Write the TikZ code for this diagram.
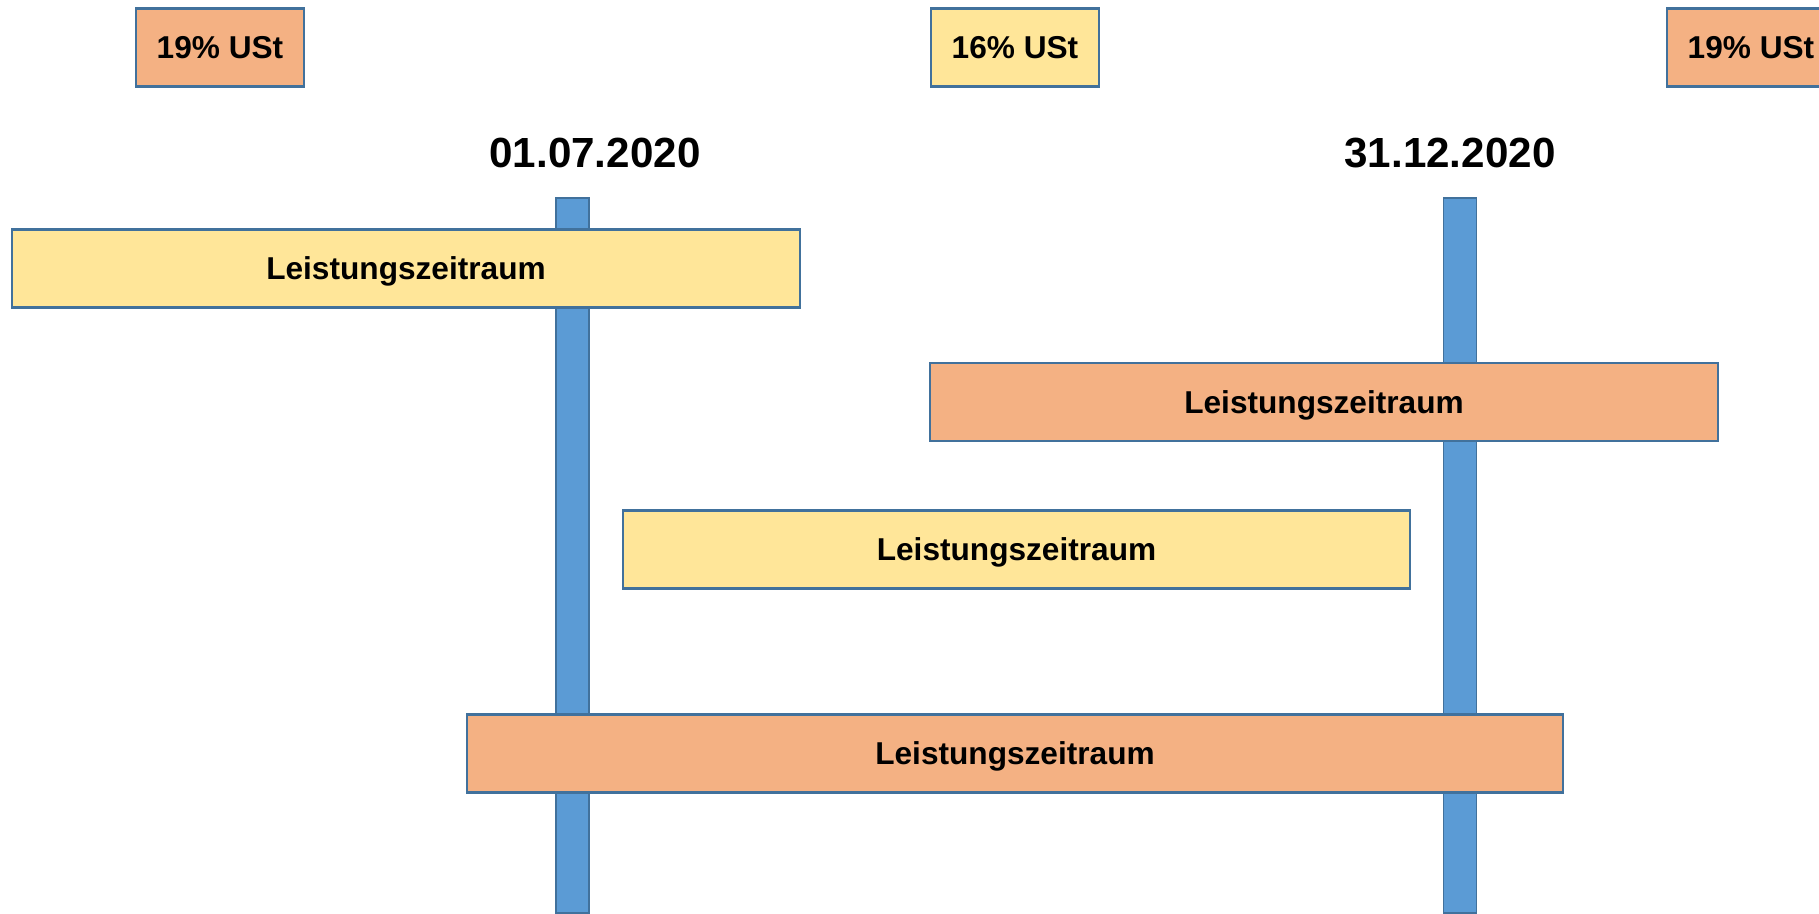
\documentclass[tikz,border=0pt]{standalone}
\usepackage{fontspec}
\setmainfont{Liberation Sans}
\usepackage{xcolor}
\usepackage{tikz}
\usetikzlibrary{positioning}
\definecolor{lzorange}{HTML}{F4B183}
\definecolor{lzyellow}{HTML}{FFE699}
\definecolor{barblue}{HTML}{5B9BD5}
\definecolor{edgeblue}{HTML}{41719C}

\begin{document}
\begin{tikzpicture}[x=0.02cm,y=-0.02cm,
	box/.style={draw=edgeblue,line width=1.2pt,minimum height=1.56cm,inner sep=0pt,text depth=0pt,font=\fontsize{18}{22}\selectfont\bfseries},
	rate/.style={box,minimum width=3.36cm},
	period/.style={box,minimum width=15.76cm},
	bar/.style={fill=barblue,draw=edgeblue,line width=1pt,minimum width=0.66cm,minimum height=14.3cm,anchor=north,inner sep=0pt},
	datum/.style={inner sep=0pt,text depth=0pt,font=\fontsize{24}{29}\selectfont\bfseries}]
	\useasboundingbox (0,0) rectangle (1819,913);
	\node[rate,fill=lzorange] (rate1) at (220,47.5) {19\% USt};
	\node[rate,fill=lzyellow] (rate2) at (1015,47.5) {16\% USt};
	\node[rate,fill=lzorange] (rate3) at (1751,47.5) {19\% USt};
	\node[datum] (date1) at (595,153) {01.07.2020};
	\node[datum] (date2) at (1450,153) {31.12.2020};
	\node[bar] (bar1) at (572.5,197) {};
	\node[bar] (bar2) at (1460,197) {};
	\node[period,fill=lzyellow] (lz1) at (406,268.5) {Leistungszeitraum};
	\node[period,fill=lzorange] (lz2) at (1324,402) {Leistungszeitraum};
	\node[period,fill=lzyellow] (lz3) at (1016.5,549.5) {Leistungszeitraum};
	\node[box,minimum width=21.92cm,fill=lzorange] (lz4) at (1015,753.5) {Leistungszeitraum};
\end{tikzpicture}
\end{document}
